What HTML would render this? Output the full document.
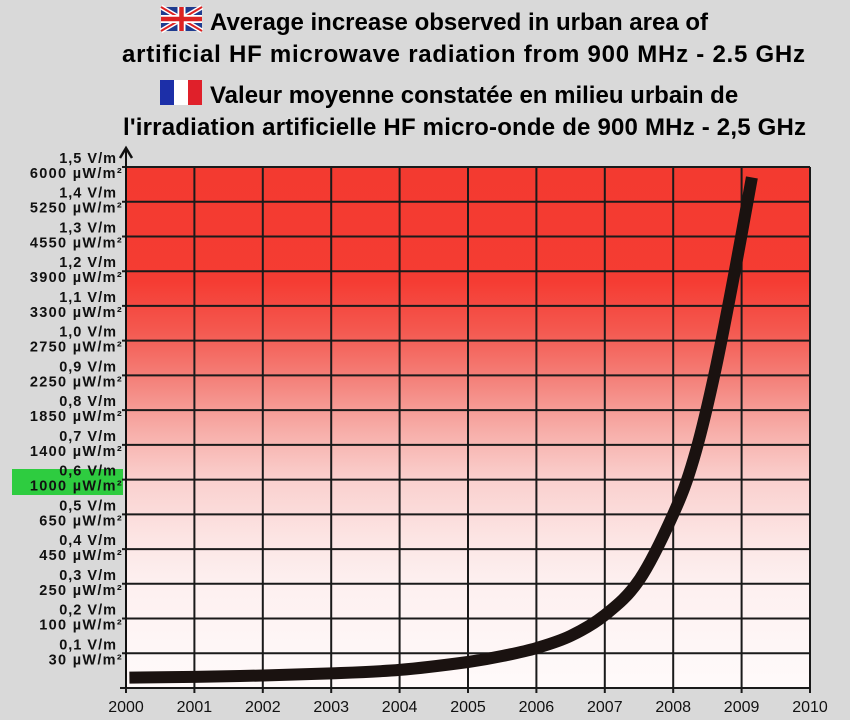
<!DOCTYPE html>
<html><head><meta charset="utf-8"><style>
body{margin:0;background:#d9d9d9;}
svg{display:block;font-family:"Liberation Sans",Arial,sans-serif;}
</style></head><body>
<svg id="chart" width="850" height="720" viewBox="0 0 850 720">
<defs>
<linearGradient id="bg" x1="0" y1="0" x2="0" y2="1">
<stop offset="0" stop-color="#f33a30"/>
<stop offset="0.22" stop-color="#f53c33"/>
<stop offset="0.31" stop-color="#f4574e"/>
<stop offset="0.41" stop-color="#f4827b"/>
<stop offset="0.5" stop-color="#f7aba6"/>
<stop offset="0.6" stop-color="#fad0ce"/>
<stop offset="0.72" stop-color="#fce6e5"/>
<stop offset="0.8" stop-color="#fdf0f0"/>
<stop offset="1" stop-color="#fffafa"/>
</linearGradient>
</defs>
<rect width="850" height="720" fill="#d9d9d9"/>
<g font-weight="bold" font-size="24" fill="#000">
<g transform="translate(161,7)">
<rect width="41" height="24" fill="#1f3c8f"/>
<path d="M0,0L41,24M41,0L0,24" stroke="#fff" stroke-width="5"/>
<path d="M0,0L41,24M41,0L0,24" stroke="#d22" stroke-width="2"/>
<path d="M20.5,0V24M0,12H41" stroke="#fff" stroke-width="8"/>
<path d="M20.5,0V24M0,12H41" stroke="#d22" stroke-width="4.5"/>
</g>
<text x="210" y="30">Average increase observed in urban area of</text>
<text x="122" y="62" textLength="683">artificial HF microwave radiation from 900 MHz - 2.5 GHz</text>
<g transform="translate(160,80)">
<rect width="14" height="25" fill="#1c2fa8"/><rect x="14" width="14" height="25" fill="#fff"/><rect x="28" width="14" height="25" fill="#e0202a"/>
</g>
<text x="210" y="103">Valeur moyenne constatée en milieu urbain de</text>
<text x="123" y="135" textLength="683">l'irradiation artificielle HF micro-onde de 900 MHz - 2,5 GHz</text>
</g>
<rect x="12" y="469" width="111" height="26" fill="#2ecc40"/>
<rect x="126" y="167" width="684" height="521" fill="url(#bg)"/>
<g id="grid"></g>
<g id="ylabels" font-weight="bold" font-size="14.5" fill="#111" text-anchor="end"></g>
<g id="xlabels" font-size="16" fill="#111" text-anchor="middle"></g>
<path d="M126,150V688" stroke="#111" stroke-width="2"/>
<path d="M120,158L126,148L132,158" fill="none" stroke="#111" stroke-width="2.5"/>
<path id="curve" fill="none" stroke="#1a1210" stroke-width="12" stroke-linejoin="round"/>
</svg>
<script>
const years=[2000,2001,2002,2003,2004,2005,2006,2007,2008,2009,2010];
const vTicks=["0,1 V/m","0,2 V/m","0,3 V/m","0,4 V/m","0,5 V/m","0,6 V/m","0,7 V/m","0,8 V/m","0,9 V/m","1,0 V/m","1,1 V/m","1,2 V/m","1,3 V/m","1,4 V/m","1,5 V/m"];
const uTicks=["30","100","250","450","650","1000","1400","1850","2250","2750","3300","3900","4550","5250","6000"];
const curveX=[2000.05,2001,2002,2003,2004,2005,2005.5,2006,2006.5,2007,2007.5,2008,2008.3,2008.6,2008.9,2009.15];
const curveY=[0.03,0.032,0.036,0.042,0.052,0.075,0.092,0.115,0.15,0.21,0.31,0.5,0.66,0.9,1.2,1.47];
const X0=126,X1=810,Y0=688,Y1=167;
function xs(v){return X0+(v-2000)/10*(X1-X0);}
function ys(v){return Y0-v/1.5*(Y0-Y1);}
const NS="http://www.w3.org/2000/svg";
const grid=document.getElementById('grid');
for(let i=1;i<=15;i++){
 const y=ys(i*0.1);
 const l=document.createElementNS(NS,'line');
 l.setAttribute('x1',X0-4);l.setAttribute('x2',X1);l.setAttribute('y1',y);l.setAttribute('y2',y);
 l.setAttribute('stroke','#1a1a1a');l.setAttribute('stroke-width','2');
 
 
 grid.appendChild(l);
}
years.forEach(function(yr){
 const x=xs(yr);
 const l=document.createElementNS(NS,'line');
 l.setAttribute('x1',x);l.setAttribute('x2',x);l.setAttribute('y1',Y1);l.setAttribute('y2',Y0+5);
 l.setAttribute('stroke','#1a1a1a');l.setAttribute('stroke-width','2');
 
 
 grid.appendChild(l);
});
const bl=document.createElementNS(NS,'line');
bl.setAttribute('x1',X0-6);bl.setAttribute('x2',X1);bl.setAttribute('y1',Y0);bl.setAttribute('y2',Y0);
bl.setAttribute('stroke','#1a1a1a');bl.setAttribute('stroke-width','2');


grid.appendChild(bl);
const yl=document.getElementById('ylabels');
for(let i=0;i<15;i++){
 const y=ys((i+1)*0.1);
 const t1=document.createElementNS(NS,'text');
 t1.setAttribute('x',117);t1.setAttribute('y',y-4);t1.setAttribute('letter-spacing','1');
 t1.textContent=vTicks[i];
 
 
 yl.appendChild(t1);
 const t2=document.createElementNS(NS,'text');
 t2.setAttribute('x',123);t2.setAttribute('y',y+11);t2.setAttribute('letter-spacing','1.3');
 t2.textContent=uTicks[i]+" µW/m²";
 
 
 yl.appendChild(t2);
}
const xl=document.getElementById('xlabels');
years.forEach(function(yr){
 const t=document.createElementNS(NS,'text');
 t.setAttribute('x',xs(yr));t.setAttribute('y',712);t.textContent=yr;
 
 
 xl.appendChild(t);
});
const P=curveX.map(function(v,i){return [xs(v),ys(curveY[i])];});
let d="M"+P[0][0].toFixed(1)+","+P[0][1].toFixed(1);
for(let i=0;i<P.length-1;i++){
 const p0=P[Math.max(0,i-1)],p1=P[i],p2=P[i+1],p3=P[Math.min(P.length-1,i+2)];
 const c1=[p1[0]+(p2[0]-p0[0])/6,p1[1]+(p2[1]-p0[1])/6];
 const c2=[p2[0]-(p3[0]-p1[0])/6,p2[1]-(p3[1]-p1[1])/6];
 d+="C"+c1[0].toFixed(1)+","+c1[1].toFixed(1)+" "+c2[0].toFixed(1)+","+c2[1].toFixed(1)+" "+p2[0].toFixed(1)+","+p2[1].toFixed(1);
}
document.getElementById('curve').setAttribute('d',d);
</script>
</body></html>
